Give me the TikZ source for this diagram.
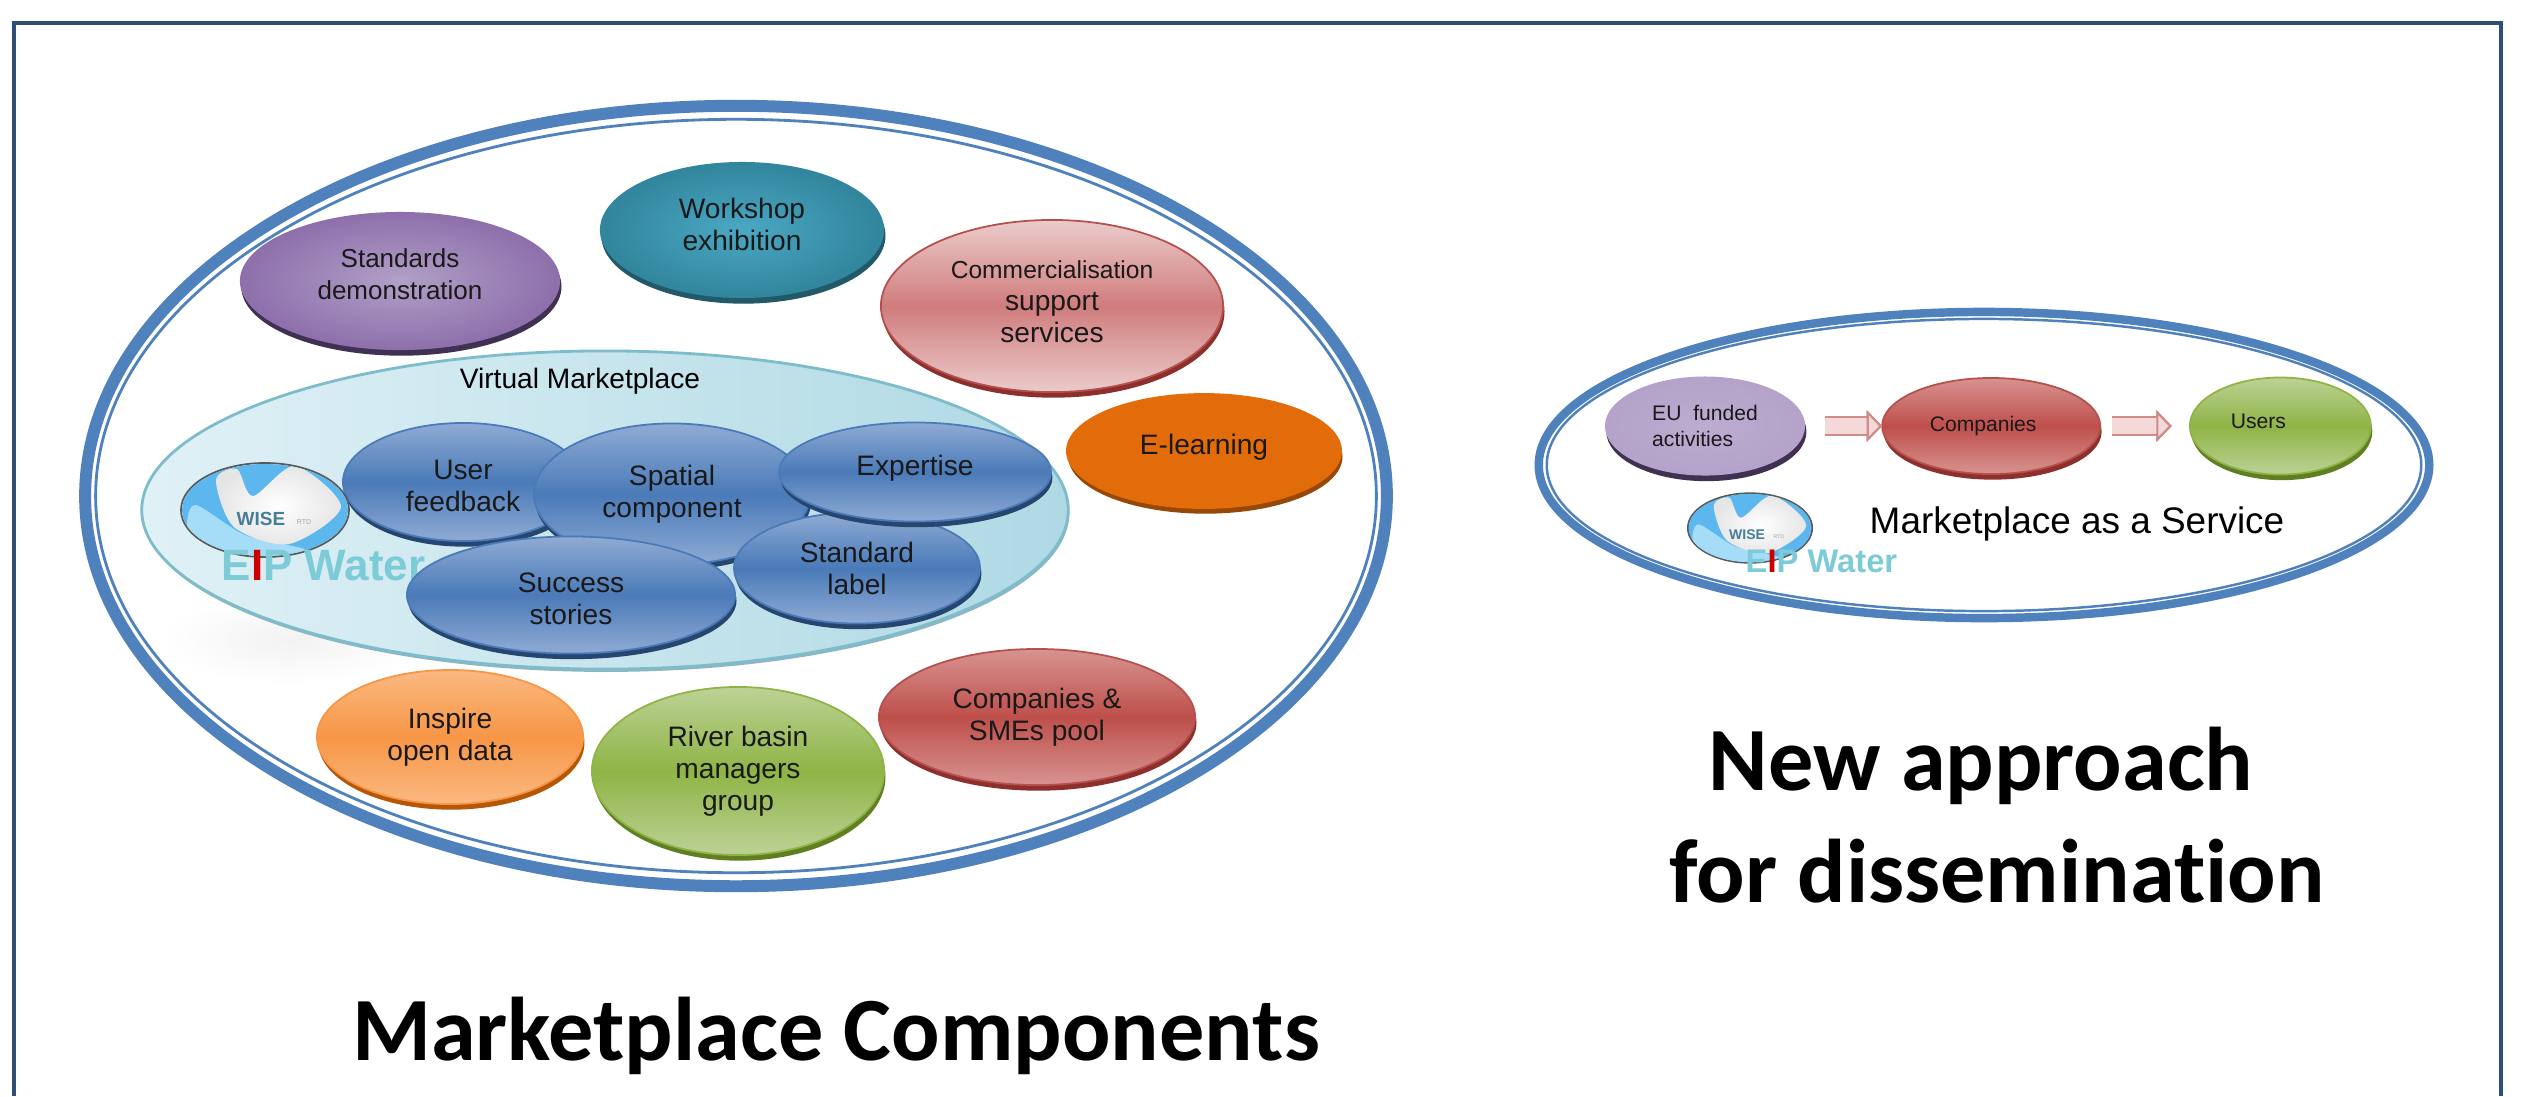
\documentclass[tikz,border=0pt]{standalone}
\usepackage{fontspec}
\setmainfont{Liberation Sans}
\newfontfamily\carlito[Ligatures=NoCommon]{Carlito}
\usetikzlibrary{positioning,shapes.geometric,shadows,arrows.meta}

\definecolor{ringblue}{HTML}{4F81BD}
\definecolor{framenavy}{HTML}{2E4F78}
\definecolor{logoteal}{HTML}{7CCBD6}
\definecolor{logoblue}{HTML}{5BB7EE}
\definecolor{logopale}{HTML}{A5DCF7}
\definecolor{arrowedge}{HTML}{D08A8A}
\definecolor{arrowfill}{HTML}{F4D9D9}
\definecolor{blueA}{HTML}{8FABD4}
\definecolor{blueB}{HTML}{4A7AB8}
\definecolor{blueC}{HTML}{27466F}
\definecolor{purpleA}{HTML}{B1A0C7}
\definecolor{purpleB}{HTML}{8D6FAB}
\definecolor{purpleC}{HTML}{403152}
\definecolor{purpleD}{HTML}{BCADD0}
\definecolor{purpleE}{HTML}{B4A2CA}
\definecolor{tealA}{HTML}{4BA8C4}
\definecolor{tealB}{HTML}{31859C}
\definecolor{tealC}{HTML}{215968}
\definecolor{pinkA}{HTML}{EBCBCB}
\definecolor{pinkB}{HTML}{D07C7C}
\definecolor{redA}{HTML}{D89390}
\definecolor{redB}{HTML}{BE4F4B}
\definecolor{redC}{HTML}{B5504E}
\definecolor{redD}{HTML}{8C2F2D}
\definecolor{darkorange}{HTML}{E36C0A}
\definecolor{darkorangeC}{HTML}{974806}
\definecolor{orangeA}{HTML}{FBB981}
\definecolor{orangeB}{HTML}{F79646}
\definecolor{orangeC}{HTML}{B65708}
\definecolor{greenA}{HTML}{BCD296}
\definecolor{greenB}{HTML}{8FB445}
\definecolor{greenC}{HTML}{5F7F22}
\definecolor{skyA}{HTML}{E0F1F6}
\definecolor{skyB}{HTML}{AFD9E4}
\definecolor{skyC}{HTML}{7FBCCB}
\definecolor{skyD}{HTML}{8FB6C0}

\tikzset{
    bubble/.style n args={4}{ellipse,inner sep=0pt,outer sep=0pt,align=center,
        font=\fontsize{8}{9.1}\selectfont,text=black!90,
        top color=#1,bottom color=#1,middle color=#2,draw=#3,line width=.5pt,
        drop shadow={shadow xshift=.4pt,shadow yshift=-1.6pt,fill=#4,opacity=1}},
    roundbubble/.style n args={3}{ellipse,inner sep=0pt,outer sep=0pt,align=center,
        font=\fontsize{8}{9.1}\selectfont,text=black!90,
        inner color=#1,outer color=#2,
        drop shadow={shadow xshift=.4pt,shadow yshift=-1.6pt,fill=#3,opacity=1}},
    bluebub/.style={bubble={blueA}{blueB}{blueB}{blueC}},
    ring/.style={ellipse,draw=ringblue,inner sep=0pt,outer sep=0pt},
    flowarrow/.style={line width=4.8pt,arrowfill,
        -{Triangle[length=4.4pt,width=9pt,fill=arrowfill,color=arrowedge,line width=.6pt]},
        preaction={draw=arrowedge,line width=5.8pt}},
    heading/.style={font=\carlito\bfseries\fontsize{25.7}{28}\selectfont},
    pics/wiselogo/.style={code={
        \path[draw=black!65,line width=.5pt,fill=white] (0,0) ellipse [x radius=84,y radius=47];
        \begin{scope}
            \clip (0,0) ellipse [x radius=83,y radius=46];
            \fill[logoblue] (-84,-47) rectangle (84,47);
            \fill[logopale] plot[smooth cycle] coordinates {(-70,-5) (-20,25) (40,40) (-30,47) (-75,25)};
            \shade[inner color=white,outer color=black!10] plot[smooth cycle]
                coordinates {(-49,-30) (-28,-41) (-12,-14) (30,-44) (76,-3) (24,34) (-31,17)};
        \end{scope}
        \node[transform shape,text=cyan!55!black,inner sep=0pt,font=\bfseries\fontsize{5.4}{6}\selectfont] (wisetext) at (-4,9) {WISE};
        \node[transform shape,text=black!35,inner sep=0pt,font=\fontsize{2}{3}\selectfont] (rtdtext) at (39,12) {RTD};
    }},
}

\begin{document}
\begin{tikzpicture}[x=.01cm,y=-.01cm,node distance=2.9cm,on grid]
    \useasboundingbox (0,0) rectangle (2524,1096);
    \fill[white] (0,0) rectangle (2524,1096);
    \draw[framenavy,line width=1.4pt] (14,1096) -- (14,23) -- (2501,23) -- (2501,1096);

    \node[ellipse,inner color=black!5,outer color=white,minimum width=2.6cm,minimum height=.9cm] (haze) at (290,640) {};
    \node[ring,line width=3.4pt,minimum width=13.01cm,minimum height=7.80cm] (market) at (736,496) {};
    \node[ring,line width=.8pt,minimum width=12.80cm,minimum height=7.53cm] (marketin) at (736,496) {};

    \node[roundbubble={purpleA}{purpleB}{purpleC},minimum width=3.20cm,minimum height=1.38cm,font=\fontsize{7.4}{9.1}\selectfont] (standards) at (400,281) {Standards\\demonstration\\[-5.1pt]};
    \node[roundbubble={tealA}{tealB}{tealC},minimum width=2.84cm,minimum height=1.36cm] (workshop) at (742,230) {Workshop\\exhibition\\[-5.7pt]};
    \node[bubble={pinkA}{pinkB}{redC}{redD},minimum width=3.42cm,minimum height=1.72cm] (commerce) at (1052,306) {{\fontsize{7}{9.1}\selectfont Commercialisation}\\support\\services\\[-6.5pt]};

    \node[ellipse,draw=skyC,line width=.8pt,left color=skyA,right color=skyB,inner sep=0pt,outer sep=0pt,minimum width=9.26cm,minimum height=3.18cm,drop shadow={shadow xshift=.3pt,shadow yshift=-.8pt,fill=skyD,opacity=1}] (virtual) at (605,510) {};
    \node[inner sep=0pt,font=\fontsize{8}{9.1}\selectfont] (virtuallabel) at (580,381) {Virtual Marketplace};

    \node[bubble={darkorange}{darkorange}{darkorange}{darkorangeC},minimum width=2.74cm,minimum height=1.14cm] (elearning) at (1204,451) {E-learning\\[-5.1pt]};

    \node[bluebub,minimum width=2.40cm,minimum height=1.18cm] (userfb) at (463,482) {\rule{0pt}{7.6pt}User\\feedback};
    \pic (logoa) at (265,510) {wiselogo};
    \node[anchor=west,inner sep=0pt,text=logoteal,font=\bfseries\fontsize{12.5}{14}\selectfont] (eipa) at (221,566) {E{\color{red!80!black}I}P Water};
    \node[bluebub,minimum width=2.76cm,minimum height=1.41cm] (spatial) at (672,494) {Spatial\\component};
    \node[bluebub,minimum width=2.46cm,minimum height=1.11cm] (stdlabel) at (857,568) {Standard\\label};
    \node[bluebub,minimum width=2.72cm,minimum height=.99cm] (expertise) at (915,472) {\raisebox{1.4mm}{Expertise}};
    \node[bluebub,minimum width=3.28cm,minimum height=1.17cm] (success) at (571,595) {\rule{0pt}{7.6pt}Success\\stories};

    \node[bubble={orangeA}{orangeB}{orangeB}{orangeC},minimum width=2.66cm,minimum height=1.34cm] (inspire) at (450,737) {Inspire\\open data};
    \node[bubble={greenA}{greenB}{greenB}{greenC},minimum width=2.92cm,minimum height=1.68cm] (river) at (738,771) {River basin\\managers\\group};
    \node[bubble={redA}{redB}{redC}{redD},minimum width=3.16cm,minimum height=1.36cm] (smes) at (1037,717) {Companies \&\\SMEs pool};

    \node[ring,line width=2.4pt,minimum width=8.90cm,minimum height=3.06cm] (service) at (1984,465) {};
    \node[ring,line width=.7pt,minimum width=8.74cm,minimum height=2.92cm] (servicein) at (1984,465) {};

    \node[roundbubble={purpleD}{purpleE}{purpleC},minimum width=2.00cm,minimum height=.99cm,font=\fontsize{6}{7.6}\selectfont,align=left] (eufunded) at (1705,426) {EU\ \ funded\\activities};
    \node[bubble={redA}{redB}{redC}{redD},minimum width=2.18cm,minimum height=.96cm,font=\fontsize{6}{7.6}\selectfont] (companies) [right=2.86cm of eufunded] {Companies\hspace*{1.6mm}};
    \node[bubble={greenA}{greenB}{greenB}{greenC},minimum width=1.81cm,minimum height=.97cm,font=\fontsize{6}{7.6}\selectfont] (users) [right=2.89cm of companies] {\raisebox{1mm}{Users\hspace*{4.4mm}}};
    \draw[flowarrow,shorten <=.2cm] (eufunded) -- (companies);
    \draw[flowarrow,shorten <=.12cm,shorten >=.18cm] (companies) -- (users);

    \pic[scale=.74] (logob) at (1750,528) {wiselogo};
    \node[anchor=west,inner sep=0pt,text=logoteal,font=\bfseries\fontsize{9.3}{11}\selectfont] (eipb) at (1745,561) {E{\color{red!80!black}I}P Water};
    \node[inner sep=0pt,font=\fontsize{10.5}{12}\selectfont] (maas) at (2077,524) {Marketplace as a Service};

    \node[heading] (newapproach) at (1981,766) {New approach};
    \node[heading] (fordissem) at (1997,871) {for dissemination};
    \node[heading] (components) at (836,1036) {Marketplace Components};
\end{tikzpicture}
\end{document}
